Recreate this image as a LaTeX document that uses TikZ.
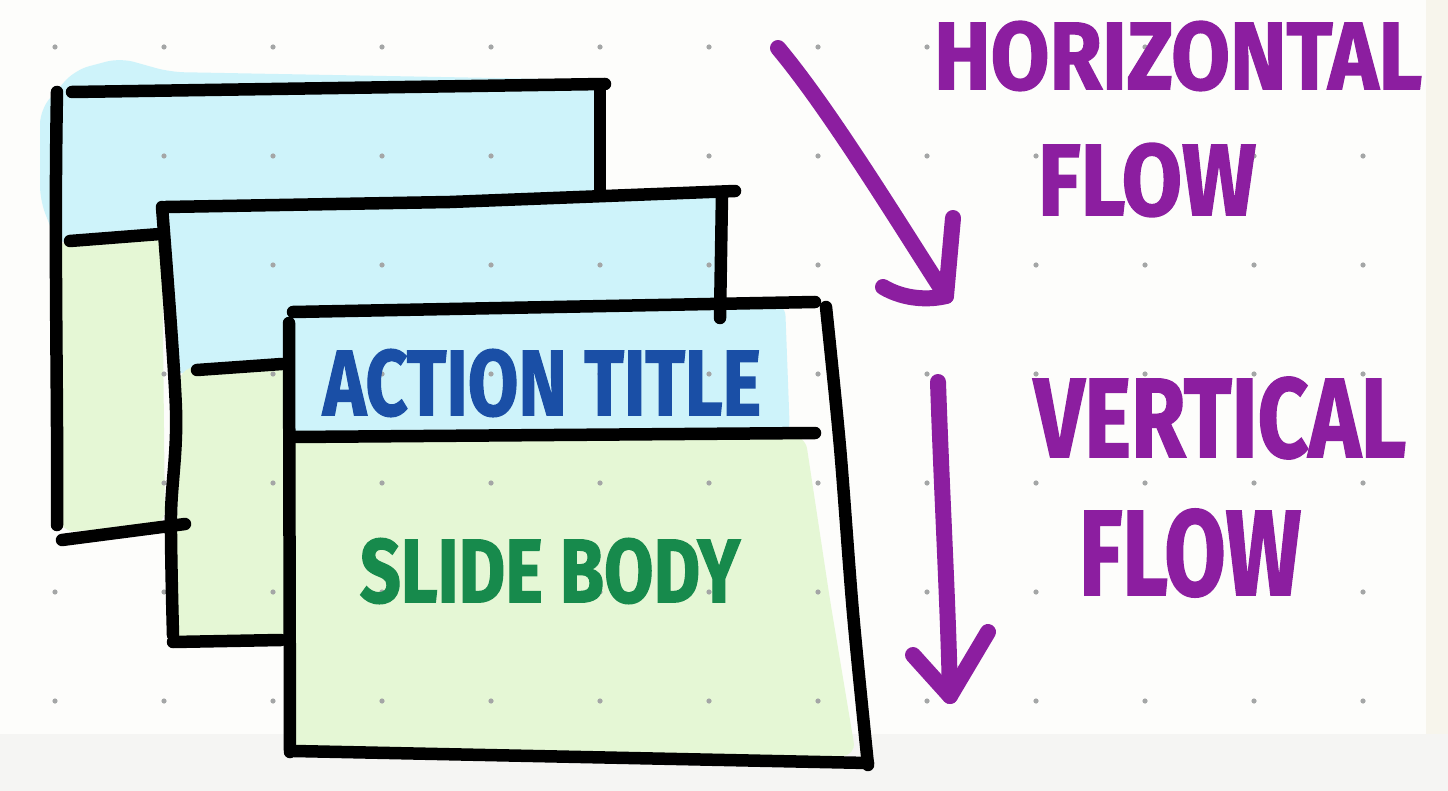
\documentclass[tikz,border=0pt]{standalone}
\usepackage{fontspec}
\setmainfont{Fira Sans}[BoldFeatures={FakeBold=1.6}]
\usepackage{graphicx}

\definecolor{paper}{HTML}{FDFDFB}
\definecolor{paperband}{HTML}{F5F5F3}
\definecolor{paperedge}{HTML}{F7F5EC}
\definecolor{washcyan}{HTML}{CEF3FA}
\definecolor{washgreen}{HTML}{E5F7D5}
\definecolor{dotgray}{HTML}{A4A6A6}
\definecolor{markerpurple}{HTML}{8C1EA0}
\definecolor{markerblue}{HTML}{1A4FA6}
\definecolor{markergreen}{HTML}{178A4C}

% text stretched to a given width and height (in pt)
\newcommand{\marker}[3]{\resizebox{#1pt}{#2pt}{\bfseries #3}}

\begin{document}
\begin{tikzpicture}[x=1pt,y=-1pt,
  ink/.style={line width=12.5pt,line cap=round,line join=round,black},
  flowline/.style={line width=16pt,line cap=round,line join=round,markerpurple},
  cyanwash/.style={fill=washcyan,rounded corners=14pt},
  greenwash/.style={fill=washgreen,rounded corners=14pt},
  label/.style={inner sep=0pt,outer sep=0pt}]

% paper
\useasboundingbox (0,0) rectangle (1448,791);
\fill[paper] (0,0) rectangle (1448,791);
\fill[paperband] (0,734) rectangle (1448,791);
\fill[paperedge] (1426,0) rectangle (1448,734);

% watercolour washes, back to front
\fill[cyanwash] (57,90) -- (75,70) -- (120,58) -- (170,72) -- (603,80) -- (603,200) -- (165,210) -- (162,238) -- (57,244) -- (40,200) -- (40,110) -- cycle;
\fill[greenwash] (58,240) -- (162,234) -- (165,525) -- (60,532) -- cycle;
\fill[cyanwash] (163,205) -- (722,192) -- (722,318) -- (293,318) -- (290,368) -- (170,374) -- cycle;
\fill[washcyan] (470,305) ellipse (40 and 14);
\fill[washcyan] (570,300) ellipse (45 and 14);
\fill[greenwash] (180,368) -- (290,363) -- (290,640) -- (175,642) -- cycle;
\fill[cyanwash] (293,312) -- (785,302) -- (790,436) -- (293,438) -- cycle;
\fill[greenwash] (293,437) -- (805,435) -- (830,600) -- (856,756) -- (293,754) -- cycle;

% dot grid
\foreach \i in {0,...,12}
  \foreach \j in {0,...,6}
    \fill[dotgray] (55+109*\i,47+109*\j) circle (2.6);

% back slide
\draw[ink] (57,92) .. controls (54,250) and (58,400) .. (57,525);
\draw[ink] (72,92) -- (605,84);
\draw[ink] (600,85) -- (600,192);
\draw[ink] (70,241) -- (160,234);
\draw[ink] (62,540) -- (185,524);

% middle slide
\draw[ink] plot[smooth] coordinates {(162,207) (176,410) (171,515) (173,635)};
\draw[ink] (166,207) -- (450,202) -- (735,191);
\draw[ink] (722,194) -- (720,318);
\draw[ink] (197,370) -- (282,364);
\draw[ink] (173,642) -- (281,640);

% front slide
\draw[ink] (289,323) -- (290,752);
\draw[ink] (293,312) -- (815,302);
\draw[ink] plot[smooth] coordinates {(826,307) (840,447) (853,613) (868,765)};
\draw[ink] (293,437) -- (815,433);
\draw[ink] (294,751) -- (868,763);

\node[label] (title) at (542,383) {\color{markerblue}\marker{438}{66}{ACTION TITLE}};
\node[label] (body) at (550,571) {\color{markergreen}\marker{380}{64}{SLIDE BODY}};

% flow labels
\node[label] (horiz) at (1178,56) {\color{markerpurple}\marker{488}{68}{HORIZONTAL}};
\node[label] (hflow) at (1147,180) {\color{markerpurple}\marker{218}{72}{FLOW}};
\node[label] (vert) at (1220,418) {\color{markerpurple}\marker{372}{80}{VERTICAL}};
\node[label] (vflow) at (1190,553) {\color{markerpurple}\marker{222}{86}{FLOW}};

% flow arrows
\coordinate (hstart) at (778,48);
\coordinate (htip) at (946,296);
\coordinate (hbarbl) at (883,287);
\coordinate (hbarbr) at (953,218);
\draw[flowline] (hstart) .. controls (830,110) and (900,225) .. (htip);
\draw[flowline] (hbarbl) .. controls (905,300) and (930,300) .. (htip) -- (hbarbr);

\coordinate (vstart) at (938,382);
\coordinate (vtip) at (950,696);
\coordinate (vbarbl) at (913,655);
\coordinate (vbarbr) at (988,632);
\draw[flowline] (vstart) .. controls (942,500) and (948,600) .. (vtip);
\draw[flowline] (vbarbl) -- (vtip) -- (vbarbr);
\end{tikzpicture}
\end{document}
